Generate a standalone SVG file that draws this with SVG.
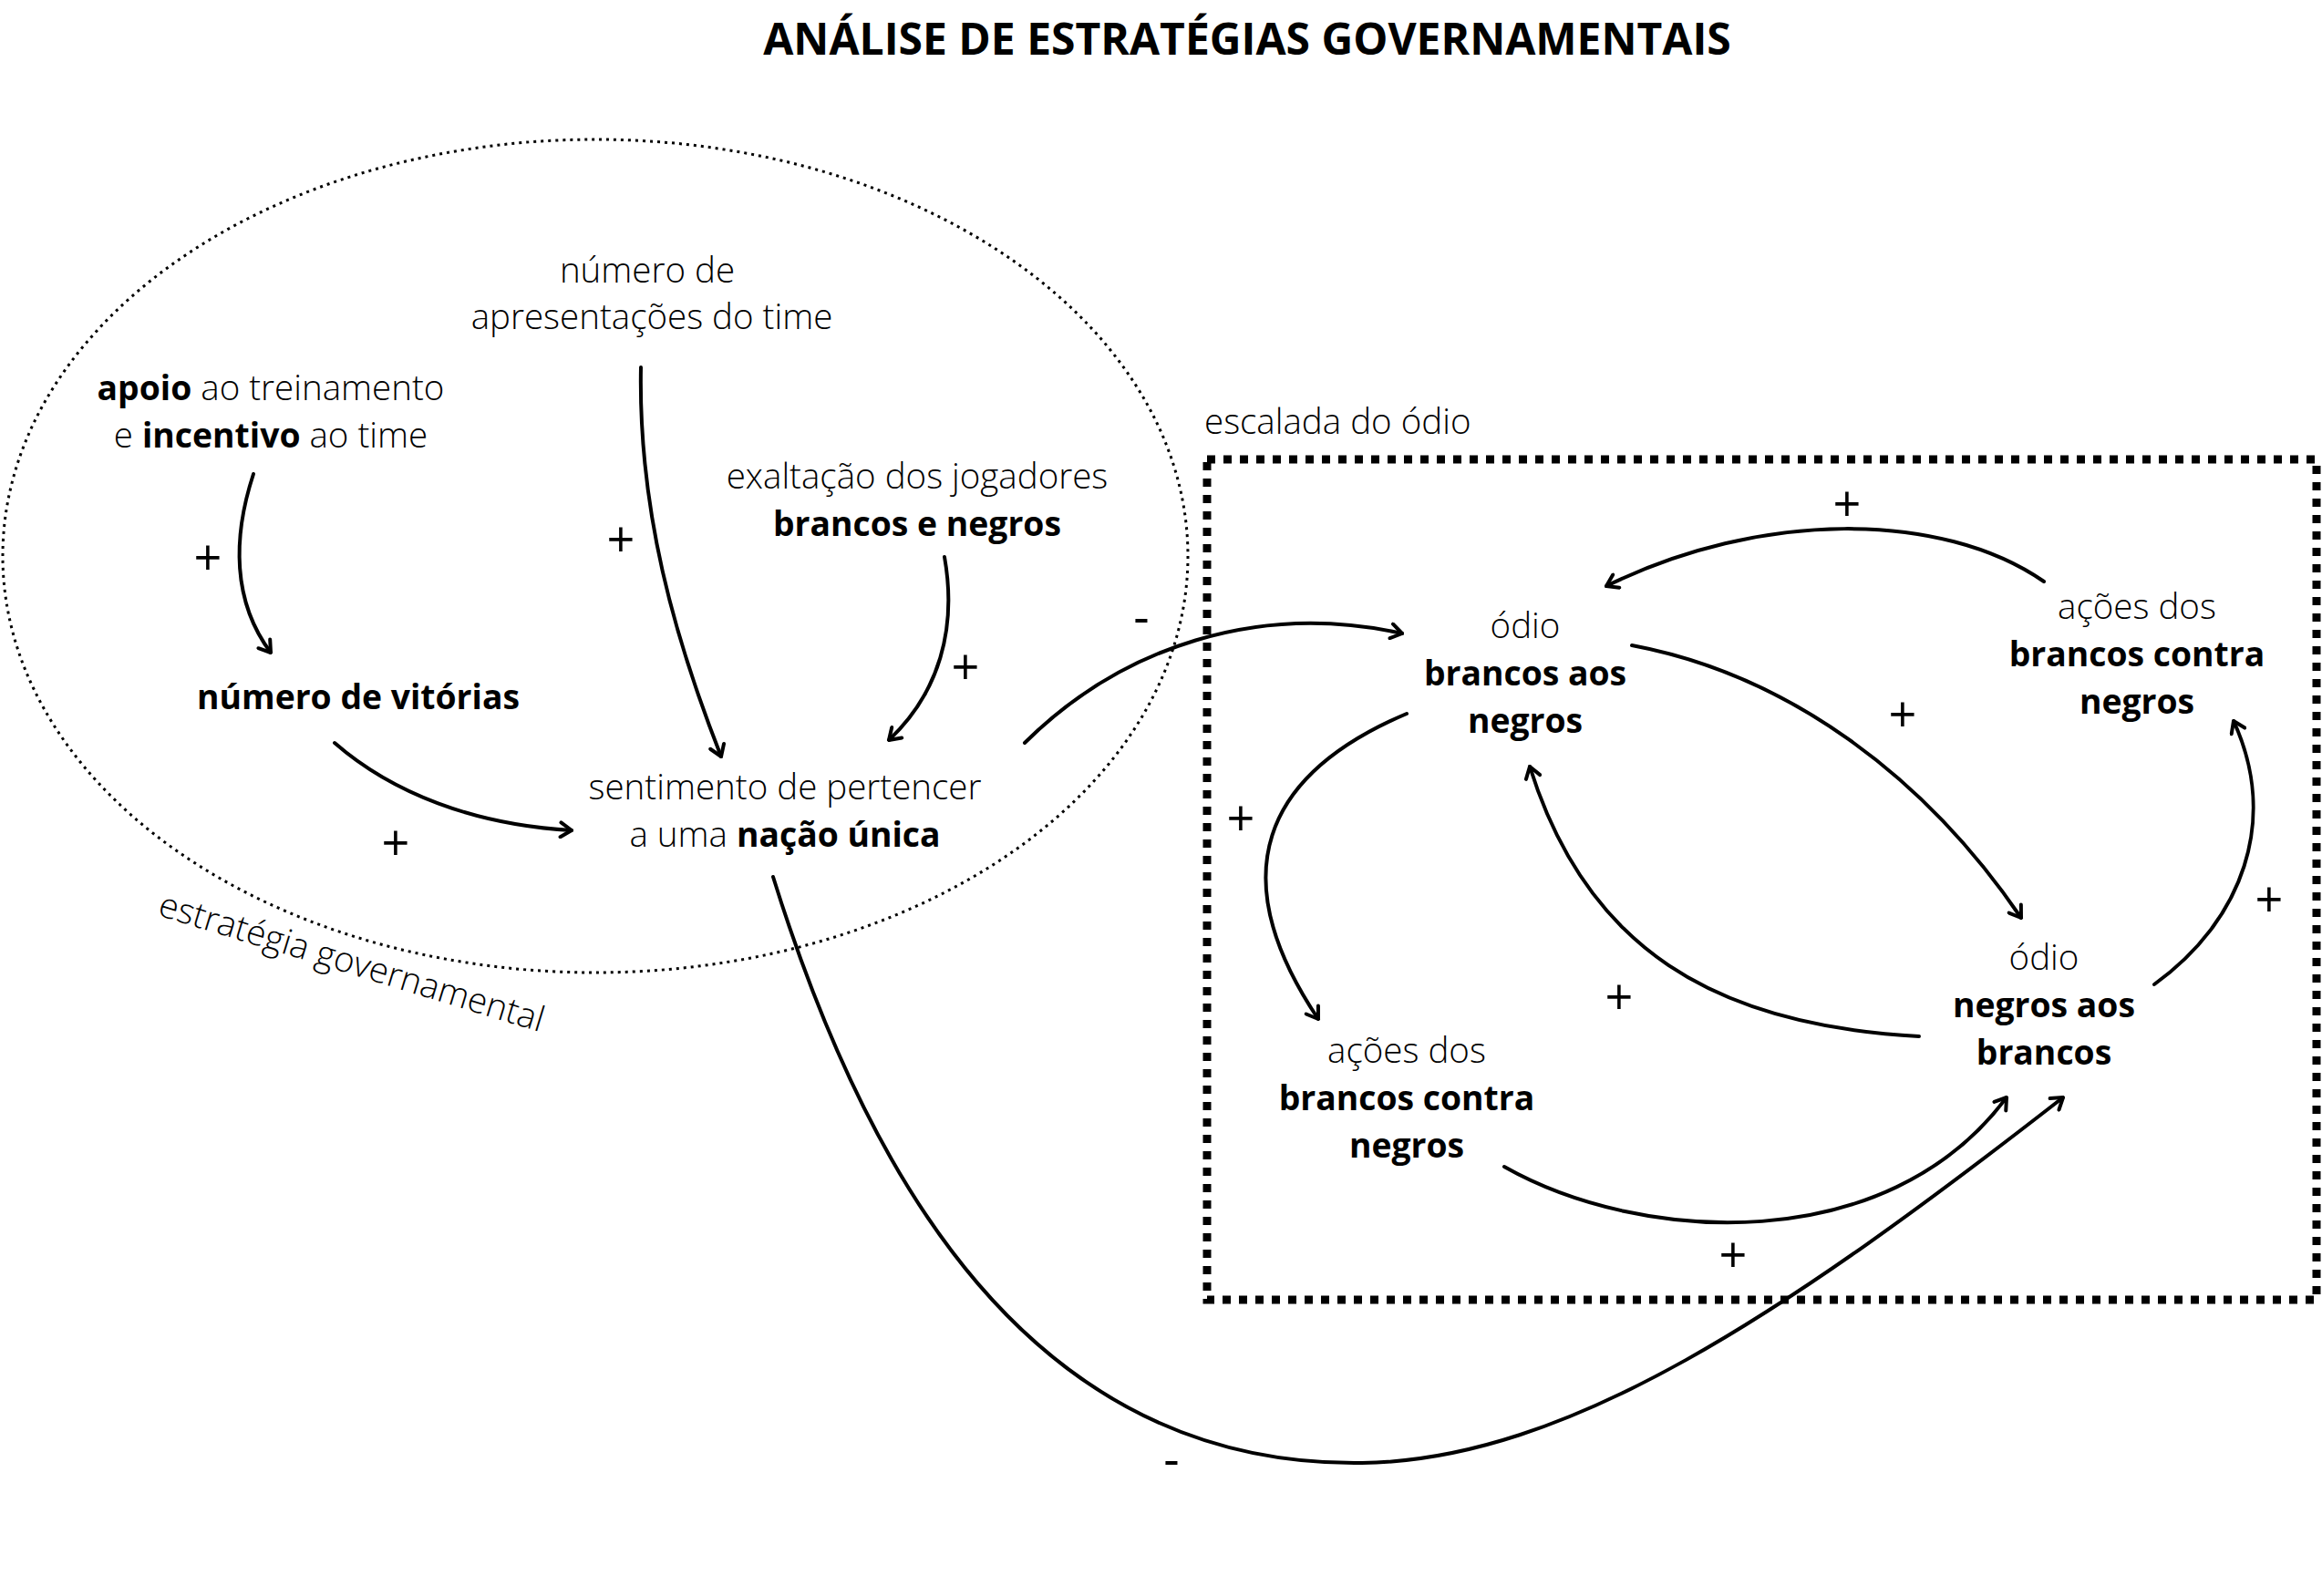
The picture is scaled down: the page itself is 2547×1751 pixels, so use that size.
<svg xmlns="http://www.w3.org/2000/svg" width="2547" height="1751" viewBox="0 0 2547 1751">
<defs>
<style>
text{font-family:"Open Sans","Noto Sans","Liberation Sans",sans-serif;fill:#000;}
.t{font-size:38.5px;font-weight:300;text-anchor:middle;}
.b{font-weight:700;font-size:37.3px;}
.title{font-size:48px;font-weight:700;text-anchor:middle;}
.sign{font-size:54px;font-weight:400;text-anchor:middle;}
.c{fill:none;stroke:#000;stroke-width:4;stroke-linecap:round;marker-end:url(#ah);}
</style>
<marker id="ah" viewBox="-16 -10 18 20" markerWidth="18" markerHeight="20" markerUnits="userSpaceOnUse" orient="auto" refX="0" refY="0">
<path d="M-12,-8 L0,0 L-12,8" fill="none" stroke="#000" stroke-width="4" stroke-linecap="round" stroke-linejoin="round"/>
</marker>
</defs>
<rect width="2547" height="1751" fill="#fff"/>
<text class="title" x="1368" y="60">ANÁLISE DE ESTRATÉGIAS GOVERNAMENTAIS</text>

<g id="group-estrategia">
<ellipse cx="653" cy="610" rx="650" ry="457" fill="none" stroke="#000" stroke-width="3" stroke-dasharray="3 5"/>
<text class="t" transform="translate(382 1068) rotate(17)" x="0" y="0">estratégia governamental</text>
</g>

<g id="group-escalada">
<rect x="1324" y="504" width="1217" height="922" fill="none" stroke="#000" stroke-width="9" stroke-dasharray="9 9"/>
<text class="t" x="1321" y="476" style="text-anchor:start">escalada do ódio</text>
</g>

<g id="node-apresentacoes">
<text class="t" x="710" y="310">número de</text>
<text class="t" x="715" y="361">apresentações do time</text>
</g>
<g id="node-apoio">
<text class="t" x="297" y="439"><tspan class="b">apoio</tspan> ao treinamento</text>
<text class="t" x="297" y="491">e <tspan class="b">incentivo</tspan> ao time</text>
</g>
<g id="node-exaltacao">
<text class="t" x="1006" y="536">exaltação dos jogadores</text>
<text class="t b" x="1006" y="588">brancos e negros</text>
</g>
<g id="node-vitorias">
<text class="t b" x="393" y="778">número de vitórias</text>
</g>
<g id="node-sentimento">
<text class="t" x="861" y="877">sentimento de pertencer</text>
<text class="t" x="861" y="929">a uma <tspan class="b">nação única</tspan></text>
</g>
<g id="node-odio-brancos">
<text class="t" x="1673" y="700">ódio</text>
<text class="t b" x="1673" y="752">brancos aos</text>
<text class="t b" x="1673" y="804">negros</text>
</g>
<g id="node-acoes-direita">
<text class="t" x="2344" y="679">ações dos</text>
<text class="t b" x="2344" y="731">brancos contra</text>
<text class="t b" x="2344" y="783">negros</text>
</g>
<g id="node-odio-negros">
<text class="t" x="2242" y="1064">ódio</text>
<text class="t b" x="2242" y="1116">negros aos</text>
<text class="t b" x="2242" y="1168">brancos</text>
</g>
<g id="node-acoes-esquerda">
<text class="t" x="1543" y="1166">ações dos</text>
<text class="t b" x="1543" y="1218">brancos contra</text>
<text class="t b" x="1543" y="1270">negros</text>
</g>

<g id="connectors">
<path class="c" d="M278,520 C255,590 255,660 297,716"/>
<path class="c" d="M703,403 C700,560 740,700 791,830"/>
<path class="c" d="M1036,611 C1050,690 1030,760 975,812"/>
<path class="c" d="M367,815 C430,870 520,905 627,911"/>
<path class="c" d="M1124,815 C1230,710 1380,660 1538,695"/>
<path class="c" d="M848,962 C950,1290 1130,1610 1494,1605 C1720,1602 1960,1440 2263,1204"/>
<path class="c" d="M2242,638 C2130,560 1930,560 1762,643"/>
<path class="c" d="M1790,708 C1960,740 2110,850 2217,1007"/>
<path class="c" d="M1543,783 C1385,850 1340,960 1446,1118"/>
<path class="c" d="M2105,1137 C1880,1125 1740,1040 1678,841"/>
<path class="c" d="M1650,1280 C1800,1365 2070,1380 2201,1204"/>
<path class="c" d="M2363,1080 C2460,1010 2500,900 2450,791"/>
<g id="signs">
<text class="sign" x="228" y="631">+</text>
<text class="sign" x="681" y="611">+</text>
<text class="sign" x="1059" y="751">+</text>
<text class="sign" x="434" y="944">+</text>
<text class="sign" x="1252" y="696">-</text>
<text class="sign" x="2026" y="572">+</text>
<text class="sign" x="2087" y="803">+</text>
<text class="sign" x="1361" y="917">+</text>
<text class="sign" x="1776" y="1113">+</text>
<text class="sign" x="2489" y="1006">+</text>
<text class="sign" x="1901" y="1396">+</text>
<text class="sign" x="1285" y="1620">-</text>
</g>
</g>
</svg>
